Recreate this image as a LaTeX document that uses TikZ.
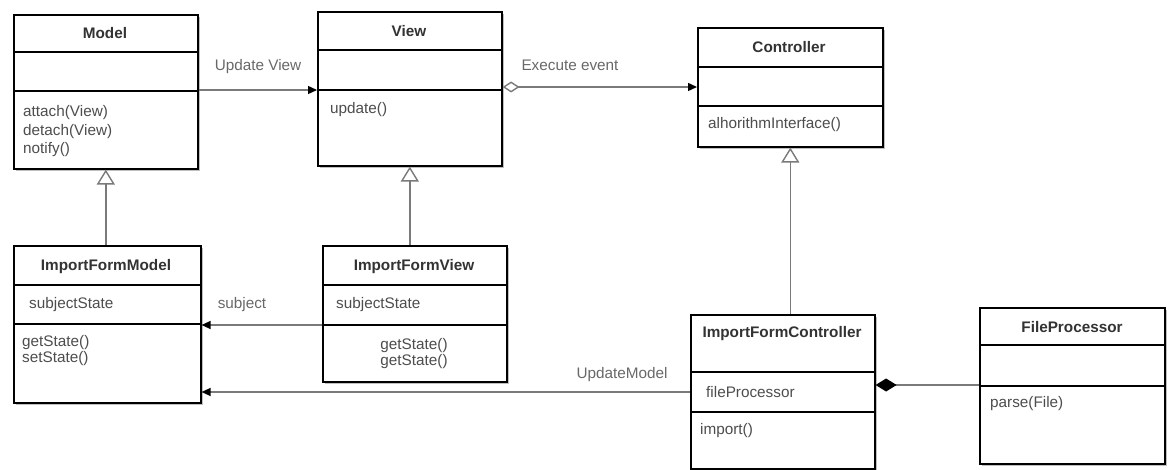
\documentclass[tikz,border=0pt]{standalone}
\usepackage{fontspec}
\setmainfont{Liberation Sans}
\usetikzlibrary{arrows.meta,shadows}

\definecolor{ink}{HTML}{333333}
\definecolor{txt}{HTML}{4D4D4D}
\definecolor{wire}{HTML}{7A7A7A}

\tikzset{
  cls/.style={draw=black, line width=1.6pt, fill=white, inner sep=0pt, anchor=north west,
    drop shadow={shadow xshift=2.5pt, shadow yshift=-2.5pt, fill=black!25, opacity=1}},
  div/.style={draw=black, line width=1.4pt},
  ttl/.style={font=\fontsize{15.3}{18}\selectfont\bfseries, text=ink, inner sep=0pt},
  mem/.style={font=\fontsize{15.3}{18}\selectfont, text=txt, inner sep=0pt, anchor=west},
  memc/.style={font=\fontsize{15.3}{18}\selectfont, text=txt, inner sep=0pt},
  lbl/.style={font=\fontsize{15.3}{18}\selectfont, text=txt!85, inner sep=0pt},
  wireline/.style={draw=wire, line width=1.4pt},
  assoc/.style={wireline, -{Triangle[length=9pt,width=8pt,color=black]}},
  inherit/.style={wireline, -{Triangle[length=15pt,width=18pt,fill=white]}},
  aggr/.style={wireline, {Diamond[length=17pt,width=11pt,fill=white]}-{Triangle[length=9pt,width=8pt,color=black]}},
  compo/.style={wireline, {Diamond[length=21pt,width=13pt,color=black]}-},
}
\newcommand\umldiv[2]{\draw[div] (#1.west |- 0,#2) -- (#1.east |- 0,#2);}

\begin{document}
\begin{tikzpicture}[x=1pt,y=-1pt]
  \useasboundingbox (0,0) rectangle (1172,470);

  % class boxes
  \node[cls, minimum width=184pt, minimum height=154pt] (model) at (13,14) {};
  \node[cls, minimum width=184pt, minimum height=154pt] (view)  at (317,11) {};
  \node[cls, minimum width=185pt, minimum height=119pt] (ctrl)  at (697,27) {};
  \node[cls, minimum width=187pt, minimum height=157pt] (ifm)   at (13,245) {};
  \node[cls, minimum width=184pt, minimum height=136pt] (ifv)   at (322,245) {};
  \node[cls, minimum width=184pt, minimum height=154pt] (ifc)   at (690,314) {};
  \node[cls, minimum width=185pt, minimum height=156pt] (fp)    at (979,307) {};

  % compartments
  \umldiv{model}{52}  \umldiv{model}{91}
  \umldiv{view}{50}   \umldiv{view}{90}
  \umldiv{ctrl}{67}   \umldiv{ctrl}{106}
  \umldiv{ifm}{285}   \umldiv{ifm}{324}
  \umldiv{ifv}{285}   \umldiv{ifv}{325}
  \umldiv{ifc}{372}   \umldiv{ifc}{412}
  \umldiv{fp}{345}    \umldiv{fp}{386}

  % Model
  \node[ttl] (model-t) at (105,33) {Model};
  \node[mem] (model-m1) at (23,113) {attach(View)};
  \node[mem] (model-m2) at (23,132) {detach(View)};
  \node[mem] (model-m3) at (23,150) {notify()};

  % View
  \node[ttl] (view-t) at (409,31) {View};
  \node[mem] (view-m1) at (330,110) {update()};

  % Controller
  \node[ttl] (ctrl-t) at (789,47) {Controller};
  \node[mem] (ctrl-m1) at (708,125) {alhorithmInterface()};

  % ImportFormModel
  \node[ttl] (ifm-t) at (106,267) {ImportFormModel};
  \node[mem] (ifm-a1) at (29,305) {subjectState};
  \node[mem] (ifm-m1) at (22,343) {getState()};
  \node[mem] (ifm-m2) at (22,359) {setState()};

  % ImportFormView
  \node[ttl] (ifv-t) at (414,267) {ImportFormView};
  \node[mem] (ifv-a1) at (336,305) {subjectState};
  \node[memc] (ifv-m1) at (414,346) {getState()};
  \node[memc] (ifv-m2) at (414,362) {getState()};

  % ImportFormController
  \node[ttl] (ifc-t) at (782,334) {ImportFormController};
  \node[mem] (ifc-a1) at (706,392) {fileProcessor};
  \node[mem] (ifc-m1) at (700,431) {import()};

  % FileProcessor
  \node[ttl] (fp-t) at (1072,327) {FileProcessor};
  \node[mem] (fp-m1) at (990,404) {parse(File)};

  % associations
  \draw[assoc] (model.east |- 0,90) -- (view.west |- 0,90);
  \node[lbl] (upd-l) at (258,67) {Update View};

  \draw[aggr] (view.east |- 0,87) -- (ctrl.west |- 0,87);
  \node[lbl] (exe-l) at (570,65) {Execute event};

  \draw[assoc] (ifv.west |- 0,325) -- (ifm.east |- 0,325);
  \node[lbl] (subj-l) at (242,305) {subject};

  \draw[assoc] (ifc.west |- 0,392) -- (ifm.east |- 0,392);
  \node[lbl] (updm-l) at (622,375) {UpdateModel};

  \draw[compo] (ifc.east |- 0,385) -- (fp.west |- 0,385);

  % generalisations
  \draw[inherit] (ifm.north -| model.south) -- (model.south);
  \draw[inherit] (ifv.north -| view.south) -- (view.south);
  \draw[inherit] (ifc.north -| ctrl.south) -- (ctrl.south);
\end{tikzpicture}
\end{document}
